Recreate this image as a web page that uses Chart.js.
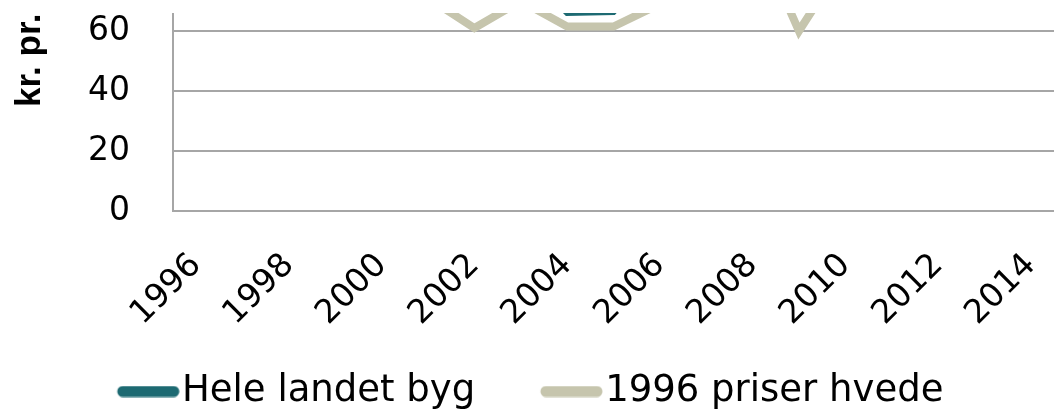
<!DOCTYPE html>
<html>
<head>
<meta charset="utf-8">
<script src="https://cdn.jsdelivr.net/npm/chart.js@4.4.1/dist/chart.umd.min.js"></script>
<style>
  html, body { margin: 0; padding: 0; background: #fff; overflow: hidden; }
  #frame { position: absolute; left: 0; top: 0; width: 1054px; height: 419px; overflow: hidden; }
  #clip { position: absolute; left: 0; top: 13px; width: 1054px; height: 406px; overflow: hidden; }
  #wrap { position: absolute; left: 0; top: -242px; width: 1054px; height: 649px; }
</style>
</head>
<body>
<div id="frame"><div id="clip"><div id="wrap"><canvas id="priceChart" width="1054" height="649"></canvas></div></div></div>
<script>
const years = ["1996", "1997", "1998", "1999", "2000", "2001", "2002", "2003", "2004", "2005",
               "2006", "2007", "2008", "2009", "2010", "2011", "2012", "2013", "2014"];
// kr. pr. hkg, only the low part of the chart is visible
const bygValues = [98, 88, 76, 78, 86, 90, 84, 82, 66, 66.3, 84, 128, 112, 71, 105, 132, 135, 118, 98];
const hvedeValues = [100, 94, 82, 78, 80, 71, 61, 70, 61.5, 61.5, 69, 112, 95, 60, 84, 108, 115, 96, 78];
const seriesNames = ["Hele landet byg", "1996 priser hvede"];
const seriesColors = ["#1d6a72", "#c6c5ad"];
const yTicks = [0, 20, 40, 60, 80, 100, 120, 140];

// rounded bar used as legend marker (left part of the image is empty on purpose)
const makeMarker = (color) => {
    const c = document.createElement("canvas");
    c.width = 102;
    c.height = 12;
    const g = c.getContext("2d");
    g.strokeStyle = color;
    g.lineWidth = 11;
    g.lineCap = "round";
    g.beginPath();
    g.moveTo(45, 6);
    g.lineTo(96, 6);
    g.stroke();
    return c;
};
const markers = seriesColors.map(makeMarker);

// move the legend row to the left, as in the original
const shiftLegend = {
    id: "shiftLegend",
    afterLayout(chart) {
        chart.legend.left += 52;
        chart.legend.right += 52;
    }
};

// no extra room around the plot for the tick labels
const noScalePadding = (scale) => {
    scale.paddingTop = 0;
    scale.paddingBottom = 0;
    scale.paddingLeft = 0;
    scale.paddingRight = 0;
};

const ctx = document.getElementById("priceChart").getContext("2d");
const chart = new Chart(ctx, {
    type: "line",
    data: {
        labels: years,
        datasets: [{
            label: seriesNames[0],
            data: bygValues,
            borderColor: seriesColors[0],
            backgroundColor: seriesColors[0],
            borderWidth: 6,
            pointRadius: 0,
            tension: 0
        }, {
            label: seriesNames[1],
            data: hvedeValues,
            borderColor: seriesColors[1],
            backgroundColor: seriesColors[1],
            borderWidth: 8,
            pointRadius: 0,
            tension: 0
        }]
    },
    options: {
        responsive: false,
        animation: false,
        devicePixelRatio: 1,
        layout: { autoPadding: false, padding: { left: 0, right: 0, top: 20, bottom: 0 } },
        plugins: {
            tooltip: { enabled: false },
            legend: {
                position: "bottom",
                align: "start",
                labels: {
                    usePointStyle: true,
                    pointStyleWidth: 69.5,
                    boxHeight: 12,
                    padding: 42,
                    color: "#000",
                    font: { family: "DejaVu Sans", size: 37 },
                    generateLabels: (c) => c.data.datasets.map((ds, i) => ({
                        text: ds.label,
                        fillStyle: ds.borderColor,
                        strokeStyle: ds.borderColor,
                        lineWidth: 0,
                        pointStyle: markers[i],
                        hidden: false,
                        datasetIndex: i
                    }))
                }
            }
        },
        scales: {
            x: {
                offset: true,
                grid: { display: false, drawTicks: false },
                border: { display: true, color: "#a6a6a6", width: 2 },
                afterFit: (scale) => {
                    noScalePadding(scale);
                    scale.height = 120;
                },
                ticks: {
                    autoSkip: false,
                    minRotation: 45,
                    maxRotation: 45,
                    padding: 35,
                    color: "#000",
                    font: { family: "DejaVu Sans", size: 33 },
                    callback: (val, i) => (i % 2 === 0 ? years[i] : "")
                }
            },
            y: {
                min: yTicks[0],
                max: yTicks[yTicks.length - 1],
                grid: { color: "#a6a6a6", lineWidth: 2, drawTicks: false },
                border: { display: true, color: "#a6a6a6", width: 2 },
                afterFit: (scale) => {
                    noScalePadding(scale);
                    scale.width = 173;
                },
                ticks: {
                    stepSize: 20,
                    padding: 43,
                    color: "#000",
                    font: { family: "DejaVu Sans", size: 33 }
                },
                title: {
                    display: true,
                    text: "kr. pr. 100 kg",
                    color: "#000",
                    padding: { top: 9, bottom: 10 },
                    font: { family: "Liberation Sans", size: 35, weight: "bold" }
                }
            }
        }
    },
    plugins: [shiftLegend]
});
</script>
</body>
</html>
